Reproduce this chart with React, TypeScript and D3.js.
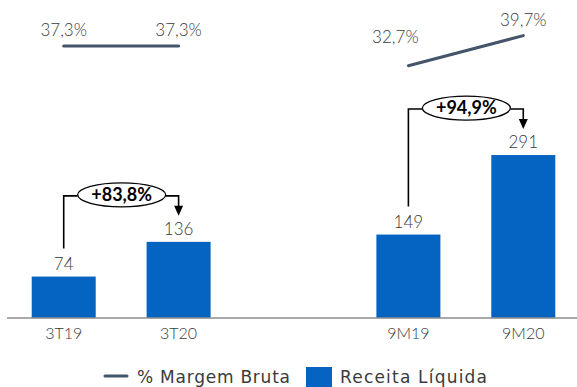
import React from "react";
import * as d3 from "d3";

const W = 577;
const H = 387;

// Revenue (R$ million) per period
const categories = ["3T19", "3T20", "9M19", "9M20"];
const receita = [74, 136, 149, 291];
// Gross margin (%) per period, drawn as pairs of connected points
const margem = [37.3, 37.3, 32.7, 39.7];
const marginPairs: [number, number][] = [
  [0, 1],
  [2, 3],
];
// Growth callouts between periods
const growth = [
  { from: 0, to: 1, label: "+83,8%" },
  { from: 2, to: 3, label: "+94,9%" },
];

const fmt = (v: number) => v.toFixed(1).replace(".", ",") + "%";

const FONT = "Lato, 'Open Sans', sans-serif";
const LEGEND_FONT = "'DejaVu Sans', sans-serif";
const TEXT = "#3a3a3a";
const BAR = "#0563C1";
const LINE = "#44546A";

export default function App() {
  const slots = [categories[0], categories[1], "__gap", categories[2], categories[3]];
  const x = d3
    .scaleBand<string>()
    .domain(slots)
    .range([5, 582])
    .paddingInner(0.443)
    .paddingOuter(0.2325);
  const y = d3.scaleLinear().domain([0, 300]).range([318, 150]);
  const y2 = d3.scaleLinear().domain([20, 45]).range([120.2, 12.9]);

  const bw = x.bandwidth();
  const cx = (i: number) => (x(categories[i]) as number) + bw / 2;

  const line = d3
    .line<number>()
    .x((i) => cx(i))
    .y((i) => y2(margem[i]));

  // Label nudges for the margin values (the low end of a rising segment sits left-above)
  const marginLabelPos = (i: number, pair: [number, number]) => {
    const a = margem[pair[0]];
    const b = margem[pair[1]];
    if (i === pair[0] && b - a > 1) return { dx: -13, dy: -23 };
    return { dx: 0, dy: -10 };
  };

  return (
    <svg width={W} height={H} style={{ position: "absolute", left: 0, top: 0 }}>
      <rect width={W} height={H} fill="#ffffff" />

      {/* bars */}
      {receita.map((v, i) => (
        <rect
          key={"b" + i}
          x={x(categories[i])}
          y={y(v)}
          width={bw}
          height={y(0) - y(v)}
          fill={BAR}
        />
      ))}

      {/* baseline */}
      <line x1={7} x2={577} y1={y(0)} y2={y(0)} stroke="#8c8c8c" strokeWidth={1.3} />

      {/* bar values */}
      {receita.map((v, i) => (
        <text
          key={"v" + i}
          x={cx(i)}
          y={y(v) - 7}
          textAnchor="middle"
          fontFamily={FONT}
          fontWeight={300}
          fontSize={17}
          fill={TEXT}
        >
          {v}
        </text>
      ))}

      {/* category labels */}
      {categories.map((c, i) => (
        <text
          key={"c" + i}
          x={cx(i)}
          y={339}
          textAnchor="middle"
          fontFamily={FONT}
          fontWeight={300}
          fontSize={16}
          fill={TEXT}
        >
          {c}
        </text>
      ))}

      {/* margin lines */}
      {marginPairs.map((p, k) => (
        <g key={"m" + k}>
          <path d={line(p) as string} fill="none" stroke={LINE} strokeWidth={3} strokeLinecap="round" />
          {p.map((i) => {
            const o = marginLabelPos(i, p);
            return (
              <text
                key={"ml" + i}
                x={cx(i) + o.dx}
                y={y2(margem[i]) + o.dy}
                textAnchor="middle"
                fontFamily={FONT}
                fontWeight={300}
                fontSize={17}
                fill={TEXT}
              >
                {fmt(margem[i])}
              </text>
            );
          })}
        </g>
      ))}

      {/* growth callouts */}
      {growth.map((g, k) => {
        const x1 = cx(g.from);
        const x2 = cx(g.to);
        const topHi = Math.min(y(receita[g.from]), y(receita[g.to]));
        const yl = topHi - 46;
        const yStart = y(receita[g.from]) - 28;
        const yTip = topHi - 26;
        const ex = (x1 + x2) / 2 + 0.5;
        const rx = 44;
        const ry = 12;
        return (
          <g key={"g" + k}>
            <path
              d={`M${x1},${yStart}V${yl}H${ex - rx}M${ex + rx},${yl}H${x2}V${yTip - 9}`}
              fill="none"
              stroke="#000"
              strokeWidth={1.6}
            />
            <path d={`M${x2 - 4.5},${yTip - 10}L${x2 + 4.5},${yTip - 10}L${x2},${yTip}Z`} fill="#000" />
            <ellipse cx={ex} cy={yl - 1} rx={rx} ry={ry} fill="#fff" stroke="#000" strokeWidth={1.3} />
            <text
              x={ex}
              y={yl + 5}
              textAnchor="middle"
              fontFamily={FONT}
              fontWeight={700}
              fontSize={18}
              fill="#000"
            >
              {g.label}
            </text>
          </g>
        );
      })}

      {/* legend */}
      <line x1={105} x2={127} y1={376} y2={376} stroke={LINE} strokeWidth={3} strokeLinecap="round" />
      <text x={137} y={383} fontFamily={LEGEND_FONT} fontSize={17} fill={TEXT} textLength={153} lengthAdjust="spacing">
        % Margem Bruta
      </text>
      <rect x={306} y={367} width={26} height={20} fill={BAR} />
      <text x={340} y={383} fontFamily={LEGEND_FONT} fontSize={17} fill={TEXT} textLength={147} lengthAdjust="spacing">
        Receita Líquida
      </text>
    </svg>
  );
}
